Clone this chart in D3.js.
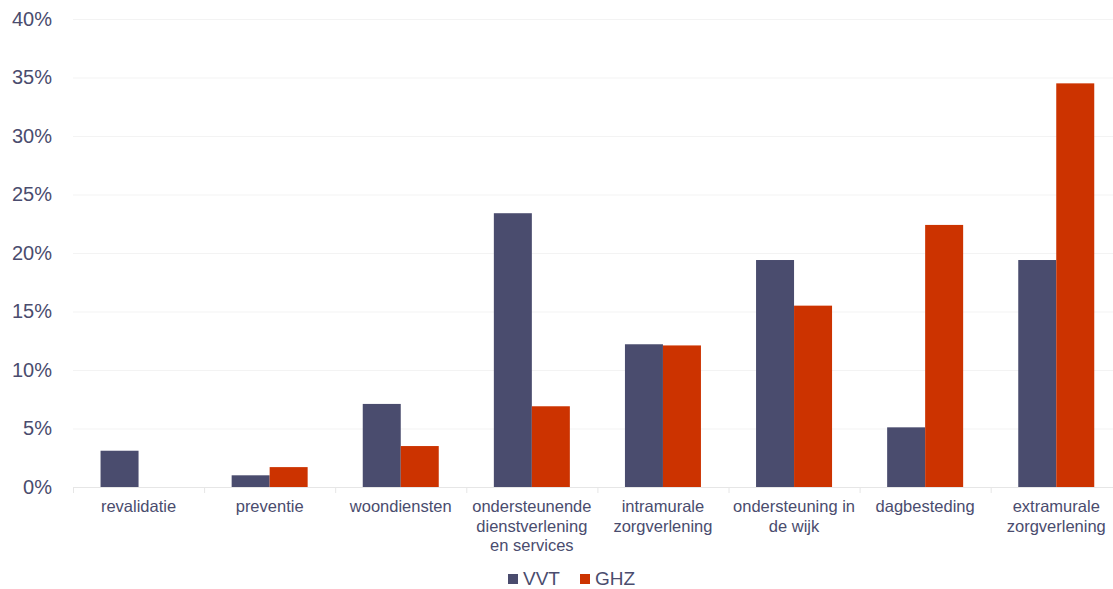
<!DOCTYPE html>
<html>
<head>
<meta charset="utf-8">
<script src="https://cdn.jsdelivr.net/npm/d3@7"></script>
<style>
  body { margin: 0; background: #fff; }
  svg { display: block; font-family: "Liberation Sans", Arial, sans-serif; }
</style>
</head>
<body>
<svg width="1113" height="589"></svg>
<script>
const categories = [
  ['revalidatie'],
  ['preventie'],
  ['woondiensten'],
  ['ondersteunende', 'dienstverlening', 'en services'],
  ['intramurale', 'zorgverlening'],
  ['ondersteuning in', 'de wijk'],
  ['dagbesteding'],
  ['extramurale', 'zorgverlening']
];
const seriesNames = ['VVT', 'GHZ'];
const vvtValues = [3.1, 1.0, 7.1, 23.4, 12.2, 19.4, 5.1, 19.4];
const ghzValues = [0, 1.7, 3.5, 6.9, 12.1, 15.5, 22.4, 34.5];
const yTicks = [0, 5, 10, 15, 20, 25, 30, 35, 40];
const colors = ['#4a4c6e', '#cc3300'];

const svg = d3.select('svg');
const margin = { top: 19, left: 73, bottom: 102 };
const height = +svg.attr('height');
const plotBottom = height - margin.bottom;
const step = 131.1;

const keys = categories.map(c => c.join(' '));
const x = d3.scaleBand()
  .domain(keys)
  .range([margin.left, margin.left + step * keys.length]);
const xs = d3.scaleBand()
  .domain(seriesNames)
  .range([0, x.bandwidth()])
  .paddingOuter(0.725);
const y = d3.scaleLinear().domain([0, 40]).range([plotBottom, margin.top]);

// grid
svg.append('g').selectAll('line').data(yTicks).join('line')
  .attr('x1', margin.left).attr('x2', 1113)
  .attr('y1', d => y(d) + 0.5).attr('y2', d => y(d) + 0.5)
  .attr('stroke', d => d === 0 ? '#e6e6e6' : '#f3f3f3');

// y axis
const yAxis = d3.axisLeft(y).tickValues(yTicks).tickFormat(d => d + '%').tickSize(0).tickPadding(21);
const yg = svg.append('g').attr('transform', `translate(${margin.left},0)`).call(yAxis);
yg.select('.domain').remove();
yg.selectAll('text').attr('fill', '#4a4c6e').style('font-size', '20px');

// category separators
svg.append('g').selectAll('line').data(keys.concat(['end'])).join('line')
  .attr('x1', (d, i) => margin.left + i * step + 0.5)
  .attr('x2', (d, i) => margin.left + i * step + 0.5)
  .attr('y1', plotBottom).attr('y2', plotBottom + 6)
  .attr('stroke', '#e6e6e6');

// bars
const data = keys.map((k, i) => ({ key: k, values: [vvtValues[i], ghzValues[i]] }));
const groups = svg.append('g').selectAll('g').data(data).join('g')
  .attr('transform', d => `translate(${x(d.key)},0)`);
groups.selectAll('rect').data(d => d.values.map((v, j) => ({ s: seriesNames[j], v, j }))).join('rect')
  .attr('x', d => xs(d.s))
  .attr('width', xs.bandwidth())
  .attr('y', d => y(d.v))
  .attr('height', d => plotBottom - y(d.v))
  .attr('fill', d => colors[d.j]);

// category labels
const lbl = svg.append('g').selectAll('text').data(categories).join('text')
  .attr('x', (d, i) => x(keys[i]) + x.bandwidth() / 2)
  .attr('y', plotBottom + 25)
  .attr('text-anchor', 'middle')
  .attr('fill', '#4a4c6e')
  .style('font-size', '16.5px');
lbl.selectAll('tspan').data(d => d).join('tspan')
  .attr('x', function () { return d3.select(this.parentNode).attr('x'); })
  .attr('dy', (d, i) => i === 0 ? 0 : 19.5)
  .text(d => d);

// legend
const legend = svg.append('g').attr('transform', 'translate(508,579)');
const li = legend.selectAll('g').data(seriesNames).join('g')
  .attr('transform', (d, i) => `translate(${i * 72},0)`);
li.append('rect').attr('x', 0).attr('y', -5).attr('width', 10).attr('height', 10)
  .attr('fill', (d, i) => colors[i]);
li.append('text').attr('x', 15).attr('y', 6).text(d => d)
  .attr('fill', '#4a4c6e').style('font-size', '19px');
</script>
</body>
</html>
